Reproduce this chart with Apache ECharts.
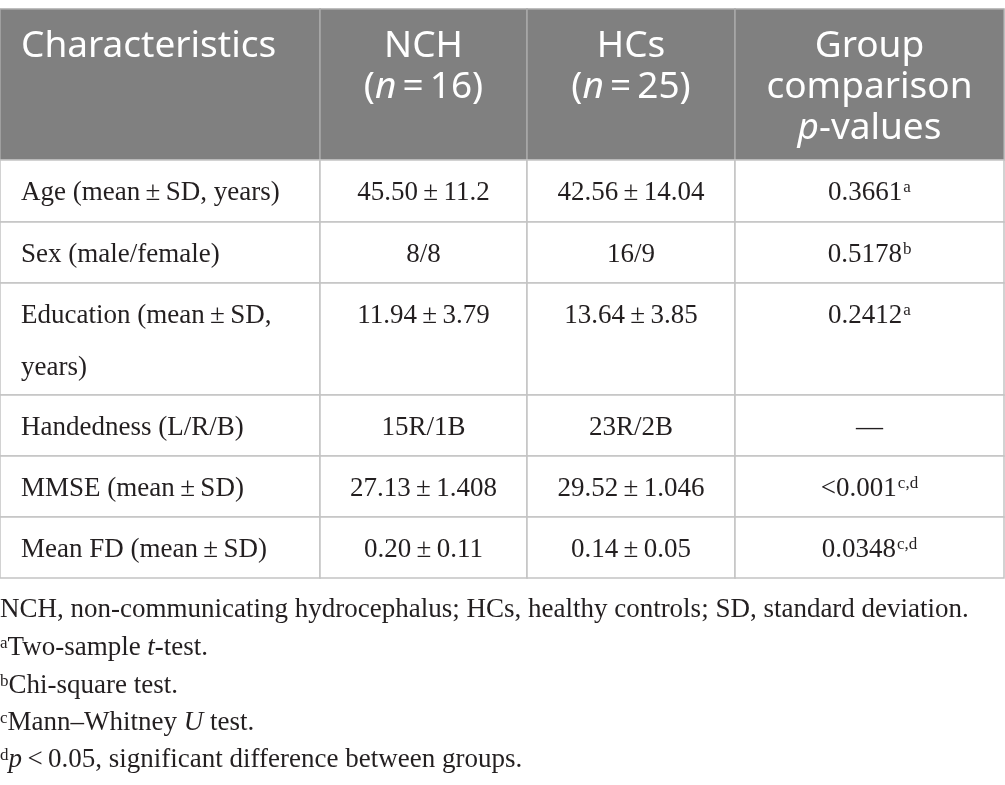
<!DOCTYPE html>
<html>
<head>
<meta charset="utf-8">
<script src="https://cdn.jsdelivr.net/npm/echarts@6/dist/echarts.min.js"></script>
<style>
html,body{margin:0;padding:0;background:#fff;}
#chart{width:1005px;height:785px;}
</style>
</head>
<body>
<div id="chart"></div>
<script>
// table content
var groupNames=['NCH','HCs'];
var groupN=[16,25];
var rowLabels=['Age (mean\u2009±\u2009SD, years)','Sex (male/female)','Education (mean\u2009±\u2009SD,\nyears)','Handedness (L/R/B)','MMSE (mean\u2009±\u2009SD)','Mean FD (mean\u2009±\u2009SD)'];
var nchValues=['45.50\u2009±\u200911.2','8/8','11.94\u2009±\u20093.79','15R/1B','27.13\u2009±\u20091.408','0.20\u2009±\u20090.11'];
var hcValues=['42.56\u2009±\u200914.04','16/9','13.64\u2009±\u20093.85','23R/2B','29.52\u2009±\u20091.046','0.14\u2009±\u20090.05'];
var pValues=['0.3661','0.5178','0.2412','—','<0.001','0.0348'];
var pTests=['a','b','a','','c,d','c,d'];
var footMarks=['','a','b','c','d'];
var footTexts=[
	[['NCH, non-communicating hydrocephalus; HCs, healthy controls; SD, standard deviation.',0]],
	[['Two-sample ',0],['t',1],['-test.',0]],
	[['Chi-square test.',0]],
	[['Mann–Whitney ',0],['U',1],[' test.',0]],
	[['p',1],['\u2009<\u20090.05, significant difference between groups.',0]]
];

// layout (pixel units of the hidden axes)
var colEdges=[0,320,527,735,1004];
var rowEdges=[9,160,222,283,395,456,517,578];
var footTop=596,footStep=37.3;

var SERIF='"Liberation Serif","DejaVu Serif",serif';
var SANS='"Noto Sans","Open Sans",sans-serif';
var INK='#231f20';

var chart=echarts.init(document.getElementById('chart'),null,{renderer:'canvas'});

function headerText(c){
	if(c==0) return '{h|Characteristics}';
	if(c==3) return '{h|Group}\n{h|comparison}\n{hi|p}{h|-values}';
	return '{h|'+groupNames[c-1]+'}\n{h|(}{hi|n}{h|\u2009=\u2009'+groupN[c-1]+')}';
}
function bodyText(c,r){
	if(c==0) return rowLabels[r].split('\n').map(function(s){return '{b|'+s+'}';}).join('\n');
	if(c==1) return '{b|'+nchValues[r]+'}';
	if(c==2) return '{b|'+hcValues[r]+'}';
	return '{b|'+pValues[r]+'}'+(pTests[r]?'{sup|'+pTests[r]+'}':'');
}

var cells=[];
for(var r=0;r<=rowLabels.length;r++){
	for(var c=0;c<4;c++){
		cells.push([c,r]);
	}
}

var richStyle={
	h:{fontFamily:SANS,fontSize:37,fill:'#ffffff',lineHeight:41},
	hi:{fontFamily:SANS,fontSize:37,fill:'#ffffff',lineHeight:41,fontStyle:'italic'},
	b:{fontFamily:SERIF,fontSize:27,fill:INK,lineHeight:52},
	sup:{fontFamily:SERIF,fontSize:17,fill:INK,lineHeight:17,verticalAlign:'top',padding:[12,0,0,1]}
};

function renderCell(params,api){
	var c=api.value(0),r=api.value(1);
	var p0=api.coord([colEdges[c],rowEdges[r]]);
	var p1=api.coord([colEdges[c+1],rowEdges[r+1]]);
	var head=(r==0);
	var tx=(c==0)?p0[0]+21:(p0[0]+p1[0])/2;
	var ty=p0[1]+(head?17:7);
	return {
		type:'group',
		children:[{
			type:'rect',
			shape:{x:p0[0],y:p0[1],width:p1[0]-p0[0],height:p1[1]-p0[1]},
			style:{fill:head?'#808080':'#ffffff',stroke:head?'#a9a9a9':'#c4c4c4',lineWidth:1.5}
		},{
			type:'text',
			x:tx,y:ty,
			style:{
				text:head?headerText(c):bodyText(c,r-1),
				align:(c==0)?'left':'center',
				verticalAlign:'top',
				rich:richStyle
			}
		}]
	};
}

var footGraphics=[];
for(var i=0;i<footTexts.length;i++){
	var t=footMarks[i]?'{fs|'+footMarks[i]+'}':'';
	for(var j=0;j<footTexts[i].length;j++){
		t+=(footTexts[i][j][1]?'{fi|':'{f|')+footTexts[i][j][0]+'}';
	}
	footGraphics.push({
		type:'text',left:0,top:footTop+i*footStep,
		style:{
			text:t,
			rich:{
				f:{fontFamily:SERIF,fontSize:27,fill:INK,lineHeight:30},
				fi:{fontFamily:SERIF,fontSize:27,fill:INK,lineHeight:30,fontStyle:'italic'},
				fs:{fontFamily:SERIF,fontSize:17,fill:INK,lineHeight:17,verticalAlign:'top',padding:[2,0,0,0]}
			}
		}
	});
}

var option={
	animation:false,
	grid:{left:0,right:0,top:0,bottom:0},
	xAxis:{type:'value',min:0,max:1005,show:false},
	yAxis:{type:'value',min:0,max:785,inverse:true,show:false},
	graphic:footGraphics,
	series:[{
		type:'custom',
		renderItem:renderCell,
		data:cells,
		silent:true,
		clip:false
	}]
};
chart.setOption(option);
</script>
</body>
</html>
